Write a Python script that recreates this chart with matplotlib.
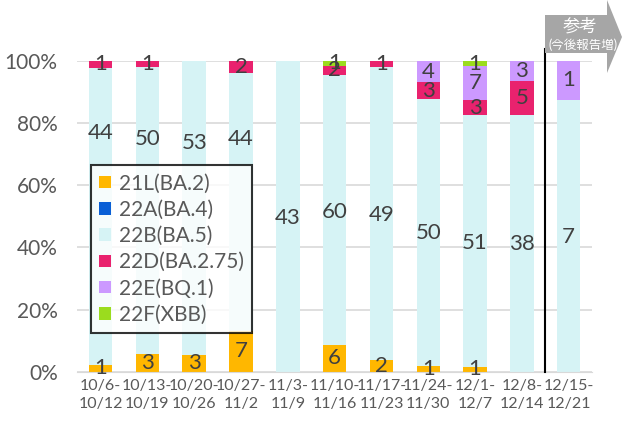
import numpy as np
import matplotlib.pyplot as plt
from matplotlib.patches import Polygon
from matplotlib.ticker import PercentFormatter

plt.rcParams['font.family'] = ['Lato', 'Noto Sans CJK JP', 'DejaVu Sans']

weeks = ['10/6-\n10/12', '10/13-\n10/19', '10/20-\n10/26', '10/27-\n11/2', '11/3-\n11/9',
         '11/10-\n11/16', '11/17-\n11/23', '11/24-\n11/30', '12/1-\n12/7', '12/8-\n12/14',
         '12/15-\n12/21']
names = ['21L(BA.2)', '22A(BA.4)', '22B(BA.5)', '22D(BA.2.75)', '22E(BQ.1)', '22F(XBB)']
colors = ['#FFB700', '#0A5FD6', '#D6F3F5', '#E9226E', '#CC99FF', '#9BDC1E']

ba2 = [1, 3, 3, 7, 0, 6, 2, 1, 1, 0, 0]
ba4 = [0, 0, 0, 0, 0, 0, 0, 0, 0, 0, 0]
ba5 = [44, 50, 53, 44, 43, 60, 49, 50, 51, 38, 7]
ba275 = [1, 1, 0, 2, 0, 2, 1, 3, 3, 5, 0]
bq1 = [0, 0, 0, 0, 0, 0, 0, 4, 7, 3, 1]
xbb = [0, 0, 0, 0, 0, 1, 0, 0, 1, 0, 0]

# hand-moved label heights (%) for the 22B(BA.5) labels, as in the original
ba5_label_y = [77, 75, 73.5, 75, 49.5, 51.5, 50.5, 44.5, 41.5, 41, 43.5]

counts = np.array([ba2, ba4, ba5, ba275, bq1, xbb], dtype=float)
shares = counts / counts.sum(axis=0) * 100

fig = plt.figure(figsize=(6.22, 4.21), dpi=100)
ax = fig.add_axes([0.124, 0.117, 0.828, 0.738])

x = np.arange(len(weeks))
bottom = np.zeros(len(weeks))
for i, (name, col) in enumerate(zip(names, colors)):
    ax.bar(x, shares[i], 0.5, bottom=bottom, color=col, label=name, zorder=2)
    for j in range(len(weeks)):
        if counts[i, j] > 0:
            y = bottom[j] + shares[i, j] / 2
            if name == '22B(BA.5)':
                y = ba5_label_y[j]
            ax.text(x[j], y, f'{int(counts[i, j])}',
                    ha='center', va='center', fontsize=16, color='#404040', zorder=4)
    bottom += shares[i]

ax.set_xlim(-0.5, len(weeks) - 0.5)
ax.set_ylim(0, 100)
ax.yaxis.set_major_formatter(PercentFormatter(decimals=0))
ax.set_yticks(np.arange(0, 101, 20))
ax.grid(axis='y', color='#D9D9D9', linewidth=1.2, zorder=0)
for s in ax.spines.values():
    s.set_visible(False)
ax.spines['bottom'].set_visible(True)
ax.spines['bottom'].set_color('#D9D9D9')
ax.tick_params(length=0)
ax.tick_params(axis='y', labelsize=15, labelcolor='#595959', pad=14)
ax.tick_params(axis='x', pad=5)
ax.set_xticks(x)
ax.set_xticklabels(weeks, fontsize=11.5, color='#595959', linespacing=1.35)

ax.axvline(9.5, ymin=0, ymax=1.04, color='black', linewidth=1.5, clip_on=False, zorder=3)

leg = ax.legend(loc='upper left', bbox_to_anchor=(0.027, 0.665), fontsize=15,
                frameon=True, fancybox=False, edgecolor='black', handlelength=0.55,
                handleheight=0.55, handletextpad=0.4, labelspacing=0.3, borderpad=0.4,
                borderaxespad=0, labelcolor='#595959')
leg.get_frame().set_linewidth(1.5)
leg.set_zorder(5)

# reference arrow box
W, H = 622, 421
pts = [(545, 15), (607, 15), (607, 0), (622, 37), (607, 73), (607, 53), (545, 53)]
arrow = Polygon([(px / W, 1 - py / H) for px, py in pts], closed=True,
                transform=fig.transFigure, facecolor='#A6A6A6', edgecolor='none')
fig.add_artist(arrow)
fig.text(580 / W, 1 - 26 / H, '参考', ha='center', va='center', fontsize=12.5, color='white')
fig.text(583 / W, 1 - 45 / H, '(今後報告増)', ha='center', va='center', fontsize=9, color='white')

fig.savefig('out.png', dpi=100)
